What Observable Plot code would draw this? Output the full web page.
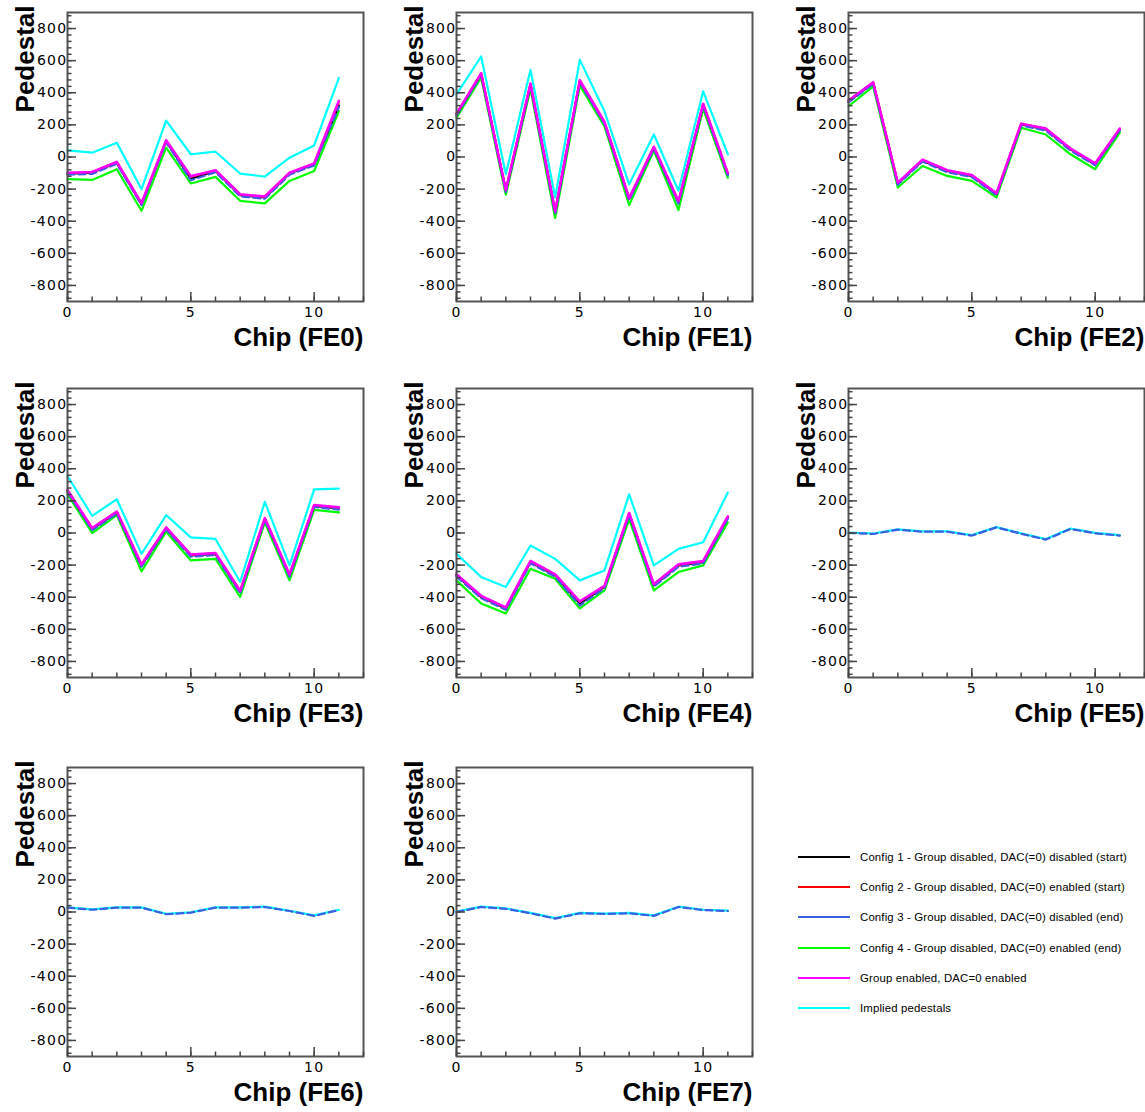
<!DOCTYPE html>
<html><head><meta charset="utf-8">
<script src="https://cdn.jsdelivr.net/npm/d3@7"></script>
<script src="https://cdn.jsdelivr.net/npm/@observablehq/plot@0.6"></script>
<style>
html,body{margin:0;padding:0;background:#fff;overflow:hidden;}
#root{position:relative;width:1145px;height:1112px;overflow:hidden;font-family:"Liberation Sans",Arial,sans-serif;}
.panel{position:absolute;width:381px;height:374px;}
.panel svg{max-width:none !important;width:381px !important;height:374px !important;}
.panel svg g[aria-label$="tick label"] text{letter-spacing:1.3px;}
.legend-row{position:absolute;left:798px;height:12px;display:flex;align-items:center;white-space:nowrap;}
.legend-line{width:52px;height:2px;margin-right:10px;}
.legend-text{font-size:11.4px;letter-spacing:0.15px;color:#000;}
</style></head><body><div id="root"></div>
<script>
const chips = [0,1,2,3,4,5,6,7,8,9,10,11];
const feNames = ["FE0","FE1","FE2","FE3","FE4","FE5","FE6","FE7"];
const seriesNames = [
  "Config 1 - Group disabled, DAC(=0) disabled (start)",
  "Config 2 - Group disabled, DAC(=0) enabled (start)",
  "Config 3 - Group disabled, DAC(=0) disabled (end)",
  "Config 4 - Group disabled, DAC(=0) enabled (end)",
  "Group enabled, DAC=0 enabled",
  "Implied pedestals"
];
const seriesColors = ["#000000","#ff0000","#3a5fe0","#00ff00","#ff00ff","#00ffff"];

// values per FE (null = not drawn)
const config1 = [
  [-103,-97,-35,-294,99,-135,-87,-238,-252,-103,-45,320],
  [265,517,-211,450,-345,471,213,-262,58,-283,327,-107],
  [347,461,-165,-21,-87,-118,-231,203,172,48,-45,172],
  [262,25,128,-202,29,-140,-130,-367,87,-264,169,153],
  [-264,-398,-470,-181,-264,-440,-336,118,-326,-202,-181,97],
  null, null, null
];
const config2 = [
  [-100,-95,-32,-290,102,-122,-84,-235,-248,-100,-42,340],
  [268,520,-207,455,-340,475,216,-258,62,-279,330,-103],
  [350,464,-162,-18,-84,-115,-228,206,175,51,-42,175],
  [266,29,132,-198,33,-136,-126,-362,91,-260,173,157],
  [-260,-394,-466,-177,-260,-429,-332,122,-322,-198,-177,101],
  null, null, null
];
const config3 = [
  [-110,-105,-42,-300,92,-145,-95,-245,-260,-110,-52,310],
  [258,510,-218,443,-355,463,205,-270,52,-291,320,-115],
  [340,455,-172,-28,-95,-125,-238,197,165,40,-52,165],
  [255,18,121,-210,22,-148,-138,-375,80,-272,162,146],
  [-272,-406,-478,-189,-272,-452,-344,110,-334,-210,-189,89],
  [0,-6,21,8,8,-16,35,-5,-41,25,-2,-16],
  [27,14,27,27,-14,-4,27,27,31,6,-24,12],
  [0,31,20,-8,-41,-8,-12,-8,-24,31,12,6]
];
const config4 = [
  [-138,-143,-76,-335,58,-165,-124,-273,-289,-149,-87,285],
  [245,495,-235,425,-380,445,190,-300,40,-330,300,-130],
  [316,440,-190,-56,-118,-149,-252,182,140,17,-76,151],
  [241,0,111,-239,8,-171,-161,-398,66,-295,144,128],
  [-295,-439,-501,-223,-285,-470,-357,87,-357,-243,-202,66],
  null, null, null
];
const groupEnabled = [
  [-98,-93,-30,-288,104,-120,-82,-232,-246,-98,-40,350],
  [270,522,-205,458,-338,478,218,-256,64,-276,332,-100],
  [352,466,-160,-16,-82,-112,-226,208,177,53,-40,177],
  [268,31,134,-196,35,-134,-124,-360,93,-258,175,160],
  [-257,-391,-463,-174,-257,-426,-329,125,-319,-195,-174,104],
  null, null, null
];
const implied = [
  [41,27,89,-200,227,17,33,-103,-122,-4,72,492],
  [390,626,-107,543,-252,605,285,-170,140,-210,409,17],
  null,
  [355,107,210,-130,111,-27,-37,-305,194,-202,272,276],
  [-130,-274,-336,-78,-161,-295,-233,241,-202,-99,-58,252],
  [3,-3,23,10,10,-13,37,-2,-38,28,1,-13],
  [29,16,29,29,-11,-2,29,29,33,8,-21,14],
  [3,33,22,-5,-38,-5,-10,-6,-21,33,14,8]
];
const seriesData = [config1, config2, config3, config4, groupEnabled, implied];
const drawOrder = [5, 3, 0, 1, 2, 4];

const yTicks = [-800,-600,-400,-200,0,200,400,600,800];
const xTicks = [0,5,10];
const yMinor = d3.range(-880, 900, 40);
const xMinor = d3.range(0, 13, 1);

const colLeft = [0, 389, 781];
const rowTop = [0, 376, 755];

const root = document.getElementById("root");
const tickColor = "#444";
const fmt = d => String(d);

feNames.forEach((fe, f) => {
  const marks = [];
  for (const s of drawOrder) {
    const vals = seriesData[s][f];
    if (!vals) continue;
    const rows = chips.map((c, i) => ({chip: c, value: vals[i]}));
    marks.push(Plot.line(rows, {
      x: "chip", y: "value", stroke: seriesColors[s],
      strokeWidth: s === 4 ? 2.5 : 2.2,
      strokeDasharray: s === 2 ? "7,4" : null,
      curve: "linear"
    }));
  }
  marks.push(
    Plot.frame({stroke: "#555", strokeWidth: 2}),
    Plot.axisY(yMinor, {tickSize: -4.5, fill: "none", stroke: tickColor, strokeWidth: 1.5, label: null}),
    Plot.axisY(yTicks, {tickSize: -9, fill: "none", stroke: tickColor, strokeWidth: 1.5, label: null}),
    Plot.axisY(yTicks, {tickSize: 0, tickPadding: 0, tickFormat: fmt, label: null, fontSize: 14, fontFamily: "DejaVu Sans", fill: "#000"}),
    Plot.axisX(xMinor, {tickSize: -4.5, fill: "none", stroke: tickColor, strokeWidth: 1.5, label: null}),
    Plot.axisX(xTicks, {tickSize: -9, fill: "none", stroke: tickColor, strokeWidth: 1.5, label: null}),
    Plot.axisX(xTicks, {tickSize: 0, tickPadding: 6, tickFormat: fmt, label: null, fontSize: 14, fontFamily: "DejaVu Sans", fill: "#000"}),
    Plot.text(["Pedestal"], {frameAnchor: "top-left", rotate: -90, textAnchor: "end", dx: -52, dy: -7, fontSize: 26, fontWeight: "bold", fill: "#000"}),
    Plot.text([`Chip (${fe})`], {frameAnchor: "bottom-right", textAnchor: "end", dx: 0, dy: 44, fontSize: 26, fontWeight: "bold", fill: "#000"})
  );
  const chart = Plot.plot({
    width: 381, height: 374,
    marginLeft: 67, marginRight: 18, marginTop: 12, marginBottom: 73,
    x: {domain: [0, 12]},
    y: {domain: [-900, 900]},
    style: {fontFamily: "'Liberation Sans', Arial, sans-serif", background: "transparent", overflow: "visible"},
    marks
  });
  const div = document.createElement("div");
  div.className = "panel";
  div.style.left = colLeft[f % 3] + "px";
  div.style.top = rowTop[Math.floor(f / 3)] + "px";
  div.appendChild(chart);
  root.appendChild(div);
});

seriesNames.forEach((name, s) => {
  const row = document.createElement("div");
  row.className = "legend-row";
  row.style.top = (851 + s * 30.2) + "px";
  const line = document.createElement("div");
  line.className = "legend-line";
  line.style.background = seriesColors[s];
  const txt = document.createElement("span");
  txt.className = "legend-text";
  txt.textContent = name;
  row.appendChild(line);
  row.appendChild(txt);
  root.appendChild(row);
});
</script></body></html>
